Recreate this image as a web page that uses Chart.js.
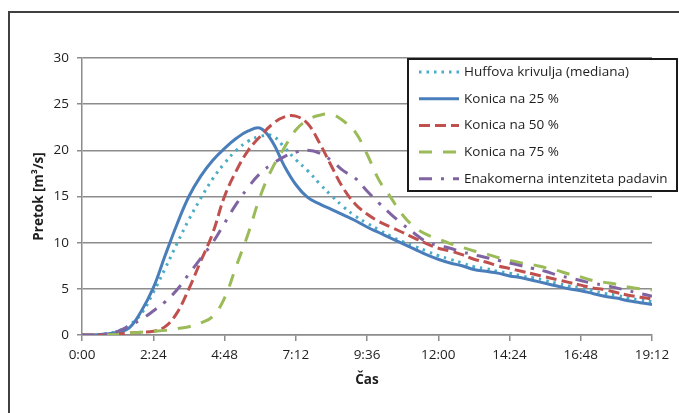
<!DOCTYPE html>
<html>
<head>
<meta charset="utf-8">
<title>Pretok</title>
<script src="https://cdn.jsdelivr.net/npm/chart.js@4.4.0/dist/chart.umd.min.js"></script>
<style>
    html, body { margin: 0; padding: 0; background: #fff; }
    canvas { display: block; }
</style>
</head>
<body>
<canvas id="flowChart" width="679" height="413"></canvas>
<script>
// Time in minutes (0:00 - 19:12)
const timeMinutes = [0, 24, 48, 72, 96, 120, 144, 168, 192, 216, 240, 264, 288, 312, 336, 360, 384,
    408, 432, 456, 480, 504, 528, 552, 576, 600, 624, 648, 672, 696, 720, 744, 768, 792, 816, 840,
    864, 888, 912, 936, 960, 984, 1008, 1032, 1056, 1080, 1104, 1128, 1152];

// Flow values [m3/s] for each series
const huffMedian = [0, 0, 0.1, 0.4, 1.1, 2.3, 4.6, 7.2, 9.9, 12.5, 14.8, 16.9, 18.6, 20.0, 21.0, 21.5, 21.6,
    20.4, 19.0, 17.8, 16.4, 15.1, 13.9, 12.9, 12.1, 11.4, 10.7, 10.1, 9.6, 9.1, 8.6, 8.2, 7.8, 7.4, 7.2, 6.9,
    6.7, 6.4, 6.2, 5.9, 5.6, 5.3, 5.1, 4.8, 4.5, 4.3, 4.0, 3.8, 3.6];
const konica25 = [0, 0, 0.1, 0.3, 0.8, 2.6, 5.1, 8.6, 12.0, 15.0, 17.2, 18.9, 20.2, 21.3, 22.1, 22.4, 21.0,
    18.4, 16.3, 14.9, 14.2, 13.6, 13.0, 12.4, 11.7, 11.1, 10.5, 9.9, 9.3, 8.7, 8.2, 7.8, 7.5, 7.1, 6.9, 6.7,
    6.4, 6.2, 5.9, 5.6, 5.3, 5.0, 4.8, 4.5, 4.2, 4.0, 3.7, 3.5, 3.3];
const konica50 = [0, 0, 0, 0.1, 0.2, 0.3, 0.4, 0.9, 2.4, 5.0, 8.0, 11.0, 15.0, 17.8, 20.0, 21.5, 22.8,
    23.6, 23.7, 22.9, 20.8, 18.3, 15.9, 14.2, 13.1, 12.3, 11.7, 11.1, 10.5, 9.9, 9.4, 9.1, 8.7, 8.2, 7.9, 7.5,
    7.2, 6.9, 6.6, 6.3, 6.0, 5.7, 5.4, 5.1, 4.9, 4.6, 4.3, 4.1, 3.9];
const konica75 = [0, 0, 0, 0.1, 0.2, 0.3, 0.4, 0.5, 0.7, 0.9, 1.3, 2.0, 4.0, 7.5, 11.0, 15.0, 18.0,
    20.2, 22.2, 23.3, 23.8, 23.9, 23.2, 22.0, 19.6, 16.8, 14.9, 13.0, 11.7, 10.9, 10.4, 9.9, 9.5, 9.1, 8.8, 8.4,
    8.1, 7.8, 7.6, 7.3, 7.0, 6.6, 6.3, 5.9, 5.7, 5.5, 5.2, 5.0, 4.9];
const enakomerna = [0, 0, 0.1, 0.4, 1.0, 1.7, 2.6, 3.6, 4.9, 6.6, 8.3, 10.0, 12.1, 14.2, 16.0, 17.5, 18.5,
    19.3, 19.8, 20.0, 19.7, 18.9, 17.8, 17.0, 15.6, 14.3, 13.1, 12.0, 11.0, 10.1, 9.7, 9.4, 9.0, 8.7, 8.4, 8.1,
    7.8, 7.5, 7.2, 6.9, 6.5, 6.2, 5.9, 5.6, 5.4, 5.1, 4.8, 4.5, 4.2];

const seriesLabels = ['Huffova krivulja (mediana)', 'Konica na 25 %', 'Konica na 50 %',
    'Konica na 75 %', 'Enakomerna intenziteta padavin'];
const seriesValues = [huffMedian, konica25, konica50, konica75, enakomerna];

const xTickLabels = ['0:00', '2:24', '4:48', '7:12', '9:36', '12:00', '14:24', '16:48', '19:12'];

// Line styles (Excel-like)
const lineColors = ['#4bacc6', '#4a7ebb', '#c0504d', '#9bbb59', '#8064a2'];
const lineDashes = [[2.5, 5], [], [11, 5], [13, 11], [13, 9, 3, 9]];

const fontFamily = '"Open Sans", "Liberation Sans", sans-serif';
const fontSize = 13.5;
const textColor = '#1e1e1e';
const gridColor = '#8c8c8c';

// Outer frame and boxed legend
const frameAndLegend = {
    id: 'frameAndLegend',
    beforeDraw(chart) {
        const ctx = chart.ctx;
        ctx.save();
        ctx.fillStyle = '#fff';
        ctx.fillRect(0, 0, chart.width, chart.height);
        ctx.strokeStyle = '#404040';
        ctx.lineWidth = 2;
        ctx.strokeRect(9, 12, 720, 500);
        ctx.restore();
    },
    afterDraw(chart) {
        const ctx = chart.ctx;
        ctx.save();
        ctx.fillStyle = '#fff';
        ctx.fillRect(407, 58, 271, 133);
        ctx.strokeStyle = '#1a1a1a';
        ctx.lineWidth = 2;
        ctx.strokeRect(408, 59, 269, 132);

        ctx.font = fontSize + 'px ' + fontFamily;
        ctx.textBaseline = 'middle';
        ctx.textAlign = 'left';
        chart.data.datasets.forEach((ds, i) => {
            const y = 72 + i * 26.7;
            ctx.strokeStyle = ds.borderColor;
            ctx.lineWidth = 3;
            ctx.setLineDash(ds.borderDash || []);
            ctx.beginPath();
            ctx.moveTo(419, y);
            ctx.lineTo(459, y);
            ctx.stroke();
            ctx.setLineDash([]);
            ctx.fillStyle = textColor;
            ctx.fillText(ds.label, 464, y);
        });
        ctx.restore();
    }
};

function createChart() {
    const ctx = document.getElementById('flowChart').getContext('2d');
    const datasets = seriesLabels.map((label, i) => ({
        label: label,
        data: timeMinutes.map((t, j) => ({ x: t, y: seriesValues[i][j] })),
        borderColor: lineColors[i],
        borderDash: lineDashes[i],
        borderWidth: 3,
        order: seriesLabels.length - i
    }));

    new Chart(ctx, {
        type: 'line',
        data: { datasets: datasets },
        options: {
            responsive: false,
            animation: false,
            devicePixelRatio: 1,
            layout: { padding: { top: 58, right: 27, bottom: 0, left: 0 } },
            elements: {
                point: { radius: 0 },
                line: { tension: 0.4, fill: false }
            },
            plugins: {
                legend: { display: false },
                tooltip: { enabled: false }
            },
            scales: {
                x: {
                    type: 'linear',
                    min: 0,
                    max: 1152,
                    ticks: {
                        stepSize: 144,
                        autoSkip: false,
                        maxRotation: 0,
                        padding: 6,
                        color: textColor,
                        font: { family: fontFamily, size: fontSize },
                        callback: value => xTickLabels[Math.round(value / 144)]
                    },
                    grid: { drawOnChartArea: false, tickLength: 6, color: gridColor, lineWidth: 1.5 },
                    border: { color: gridColor, width: 1.5 },
                    title: {
                        display: true,
                        text: 'Čas',
                        color: textColor,
                        font: { family: fontFamily, size: fontSize, weight: 'bold' },
                        padding: { top: 0, bottom: 25 }
                    },
                    afterFit(scale) { scale.height = 78; }
                },
                y: {
                    min: 0,
                    max: 30,
                    ticks: {
                        stepSize: 5,
                        padding: 8,
                        color: textColor,
                        font: { family: fontFamily, size: fontSize }
                    },
                    grid: { tickLength: 5, color: gridColor, lineWidth: 1.5 },
                    border: { color: gridColor, width: 1.5 },
                    title: {
                        display: true,
                        text: 'Pretok [m³/s]',
                        color: textColor,
                        font: { family: fontFamily, size: fontSize, weight: 'bold' },
                        padding: { top: 31, bottom: 0 }
                    },
                    afterFit(scale) { scale.width = 82; }
                }
            }
        },
        plugins: [frameAndLegend]
    });
}

createChart();
</script>
</body>
</html>
